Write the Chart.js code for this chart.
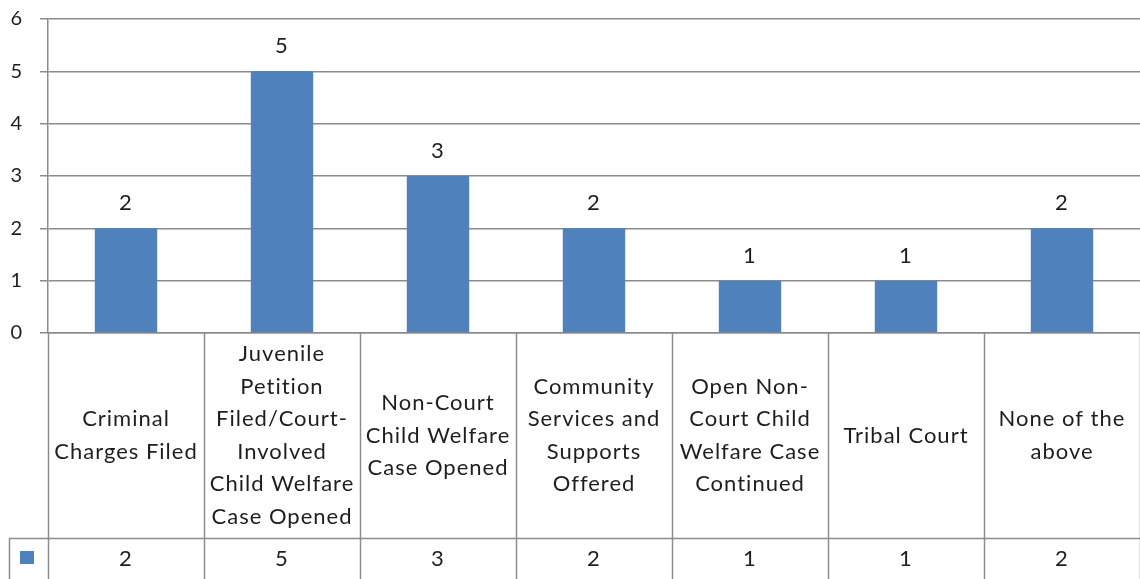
<!DOCTYPE html>
<html>
<head>
<meta charset="utf-8">
<script src="https://cdn.jsdelivr.net/npm/chart.js@4"></script>
<style>
  html, body { margin: 0; padding: 0; background: #fff; }
  #wrap { width: 1140px; height: 579px; position: relative; }
</style>
</head>
<body>
<div id="wrap"><canvas id="myChart"></canvas></div>
<script>
// category names, already wrapped the way the table shows them
var categories = [
	['Criminal', 'Charges Filed'],
	['Juvenile', 'Petition', 'Filed/Court-', 'Involved', 'Child Welfare', 'Case Opened'],
	['Non-Court', 'Child Welfare', 'Case Opened'],
	['Community', 'Services and', 'Supports', 'Offered'],
	['Open Non-', 'Court Child', 'Welfare Case', 'Continued'],
	['Tribal Court'],
	['None of the', 'above']
];
var counts = [2, 5, 3, 2, 1, 1, 2];
var yTicks = [0, 1, 2, 3, 4, 5, 6];

var barColor = '#4F81BD';
var lineColor = '#8c8c8c';
var textColor = '#1e1e1e';
var fontFamily = 'Lato, "Open Sans", sans-serif';

// data table under the plot (label row + value row)
var tableRowLabels = 205;
var tableRowValues = 41;

var dataTable = {
	id: 'dataTable',
	afterDraw: function(chart){
		var ctx = chart.ctx;
		var area = chart.chartArea;
		var xs = chart.scales.x;
		var step = xs.width / categories.length;
		var top = area.bottom;
		var mid = top + tableRowLabels;
		var bottom = mid + tableRowValues;

		ctx.save();
		ctx.strokeStyle = lineColor;
		ctx.lineWidth = 1.5;

		// column borders
		for (var i = 0; i <= categories.length; i++) {
			var bx = Math.round(xs.left + i * step) + 0.5;
			ctx.beginPath();
			ctx.moveTo(bx, top);
			ctx.lineTo(bx, bottom);
			ctx.stroke();
		}
		// legend key column border
		ctx.beginPath();
		ctx.moveTo(9.5, bottom);
		ctx.lineTo(9.5, mid + 0.5);
		ctx.lineTo(chart.width, mid + 0.5);
		ctx.stroke();

		// legend key
		ctx.fillStyle = barColor;
		ctx.fillRect(20, 551, 14, 13);

		ctx.fillStyle = textColor;
		ctx.font = '22px ' + fontFamily;
		ctx.letterSpacing = '1px';
		ctx.textAlign = 'center';
		ctx.textBaseline = 'middle';
		var lineH = 32.5;
		categories.forEach(function(lines, i){
			var cx = xs.getPixelForValue(i);
			var y0 = top + tableRowLabels / 2 - (lines.length - 1) * lineH / 2;
			lines.forEach(function(t, j){
				ctx.fillText(t, cx, y0 + j * lineH);
			});
			ctx.fillText(String(counts[i]), cx, mid + tableRowValues / 2);
		});

		// value labels above bars
		var meta = chart.getDatasetMeta(0);
		meta.data.forEach(function(bar, i){
			ctx.fillText(String(counts[i]), bar.x, bar.y - 25);
		});
		ctx.restore();
	}
};

var ctx = document.getElementById('myChart');
var myBarChart = new Chart(ctx, {
	type: 'bar',
	data: {
		labels: categories,
		datasets: [{
			data: counts,
			backgroundColor: barColor,
			categoryPercentage: 1,
			barPercentage: 0.4
		}]
	},
	options: {
		responsive: true,
		maintainAspectRatio: false,
		animation: false,
		layout: { padding: { top: 19, bottom: tableRowLabels + tableRowValues, left: 0, right: 0 } },
		plugins: {
			legend: { display: false },
			tooltip: { enabled: false }
		},
		scales: {
			x: {
				ticks: { display: false },
				grid: { display: false },
				border: { display: true, color: lineColor, width: 1.5 },
				afterFit: function(scale){ scale.height = 0; }
			},
			y: {
				min: 0,
				max: yTicks[yTicks.length - 1],
				afterBuildTicks: function(scale){
					scale.ticks = yTicks.map(function(v){ return { value: v }; });
				},
				ticks: {
					color: textColor,
					font: { family: fontFamily, size: 20 },
					padding: 18
				},
				grid: { color: lineColor, lineWidth: 1.5, tickLength: 8 },
				border: { display: true, color: lineColor, width: 1.5 },
				afterFit: function(scale){
					scale.width = 48;
					scale.paddingTop = 10;
					scale.paddingBottom = 10;
				}
			}
		}
	},
	plugins: [dataTable]
});
</script>
</body>
</html>
